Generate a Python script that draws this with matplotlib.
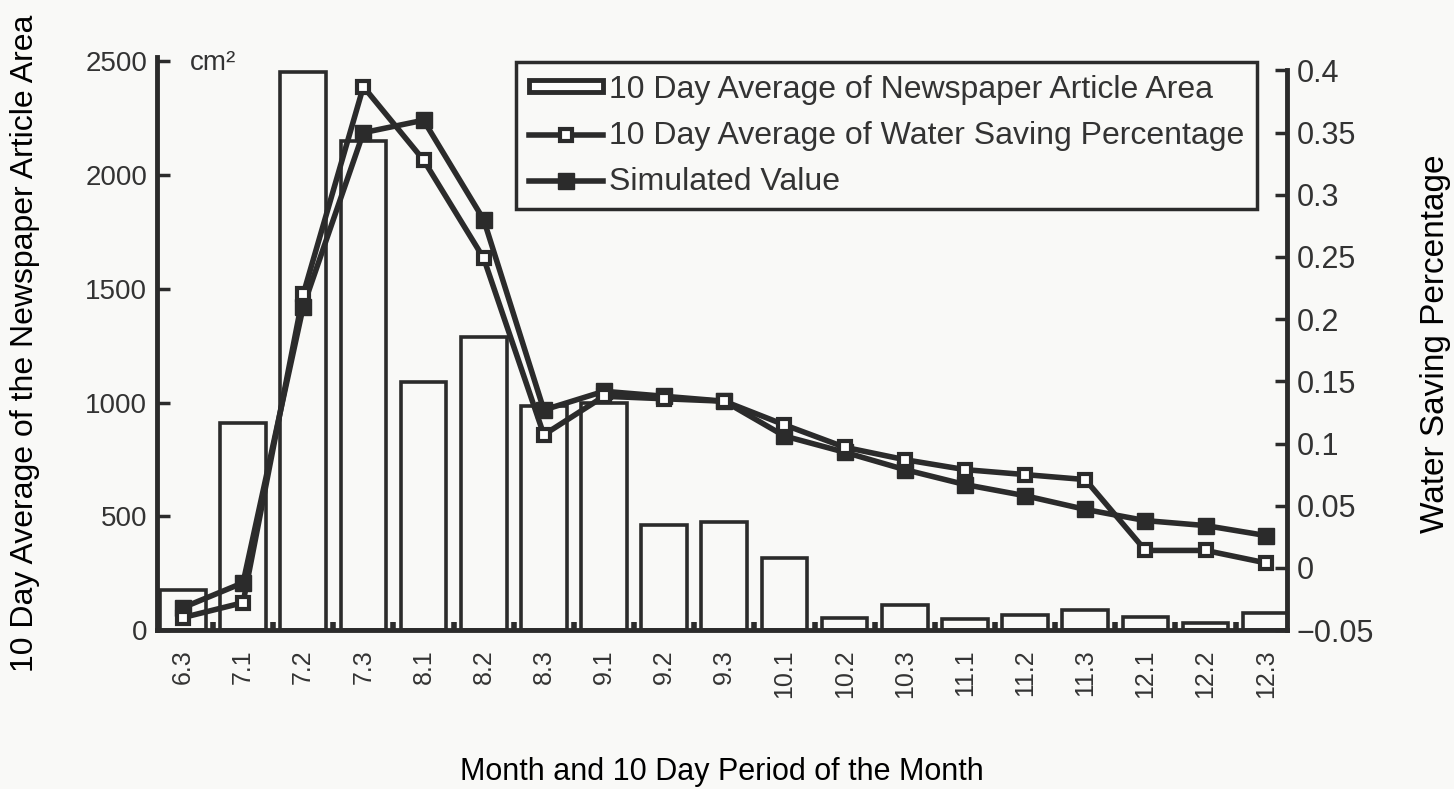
import numpy as np
import matplotlib
matplotlib.use('Agg')
import matplotlib.pyplot as plt
from matplotlib.patches import Patch
from matplotlib.lines import Line2D

# --- data ---
periods = ['6.3', '7.1', '7.2', '7.3', '8.1', '8.2', '8.3', '9.1', '9.2', '9.3',
           '10.1', '10.2', '10.3', '11.1', '11.2', '11.3', '12.1', '12.2', '12.3']
article_area = [175, 910, 2455, 2150, 1090, 1290, 985, 1000, 462, 475,
                317, 53, 110, 48, 66, 88, 57, 31, 75]
water_saving = [-0.040, -0.028, 0.220, 0.387, 0.328, 0.249, 0.107, 0.138, 0.136, 0.134,
                0.115, 0.097, 0.087, 0.079, 0.075, 0.071, 0.014, 0.014, 0.004]
simulated = [-0.032, -0.012, 0.210, 0.350, 0.360, 0.280, 0.127, 0.142, 0.138, 0.134,
             0.106, 0.093, 0.079, 0.067, 0.058, 0.047, 0.038, 0.034, 0.026]

ink = '#2b2b2b'
txt = '#333333'
paper = '#f9f9f7'
plt.rcParams['font.family'] = ['Liberation Sans', 'DejaVu Sans']
plt.rcParams['text.color'] = txt

fig = plt.figure(figsize=(14.54, 7.89), dpi=100, facecolor=paper)
ax = fig.add_axes([0.108, 0.2015, 0.777, 0.7265])
ax.set_facecolor(paper)
x = np.arange(len(periods))

ax.bar(x, article_area, width=0.76, facecolor=paper, edgecolor=ink, linewidth=2.6, zorder=2)
ax.set_xlim(-0.43, 18.35)
ax.set_ylim(0, 2520)
ax.set_yticks([0, 500, 1000, 1500, 2000, 2500])
ax.set_xticks(x)
ax.set_xticklabels(periods, rotation=90, fontsize=18, color=txt)
ax.set_xticks(np.arange(len(periods) - 1) + 0.5, minor=True)
ax.tick_params(axis='x', which='major', length=0, pad=14)
ax.tick_params(axis='x', which='minor', direction='in', length=6, width=4, color=ink)
ax.tick_params(axis='y', direction='in', length=9, width=2.5, color=ink,
               labelsize=20, labelcolor=txt, pad=7)
for s in ['top', 'right']:
    ax.spines[s].set_visible(False)
for s in ['left', 'bottom']:
    ax.spines[s].set_linewidth(3.5)
    ax.spines[s].set_color(ink)
ax.set_ylabel('10 Day Average of the Newspaper Article Area', fontsize=23)
ax.yaxis.set_label_coords(-0.117, 0.5)
ax.yaxis.label.set_va('center')
ax.set_xlabel('Month and 10 Day Period of the Month', fontsize=22)
ax.xaxis.set_label_coords(0.5, -0.247)
ax.xaxis.label.set_va('center')
ax.text(0.029, 0.99, 'cm²', transform=ax.transAxes, fontsize=20, va='center', ha='left')

ax2 = ax.twinx()
ax2.set_ylim(-0.0495, 0.411)
ax2.set_yticks([-0.05, 0, 0.05, 0.1, 0.15, 0.2, 0.25, 0.3, 0.35, 0.4])
ax2.set_yticklabels(['\u22120.05', '0', '0.05', '0.1', '0.15', '0.2', '0.25', '0.3', '0.35', '0.4'])
ax2.plot(x, simulated, color=ink, linewidth=4, marker='s', markersize=12,
         markerfacecolor=ink, markeredgecolor=ink, zorder=3)
ax2.plot(x, water_saving, color=ink, linewidth=4, marker='s', markersize=9,
         markerfacecolor='white', markeredgecolor=ink, markeredgewidth=3, zorder=4)
for s in ['top', 'left', 'bottom']:
    ax2.spines[s].set_visible(False)
ax2.spines['right'].set_linewidth(3.5)
ax2.spines['right'].set_color(ink)
ax2.spines['right'].set_bounds(-0.05, 0.4)
ax2.tick_params(axis='y', direction='in', length=9, width=2.5, color=ink,
                labelsize=22, labelcolor=txt, pad=7)
ax2.set_ylabel('Water Saving Percentage', fontsize=24)
ax2.yaxis.set_label_coords(1.132, 0.5)
ax2.yaxis.label.set_va('center')

handles = [
    Patch(facecolor='white', edgecolor=ink, linewidth=3.5),
    Line2D([], [], color=ink, linewidth=4, marker='s', markersize=9,
           markerfacecolor='white', markeredgecolor=ink, markeredgewidth=3),
    Line2D([], [], color=ink, linewidth=4, marker='s', markersize=12,
           markerfacecolor=ink, markeredgecolor=ink),
]
labels = ['10 Day Average of Newspaper Article Area',
          '10 Day Average of Water Saving Percentage',
          'Simulated Value']
leg = ax2.legend(handles, labels, loc='upper left', bbox_to_anchor=(0.318, 0.991),
                 borderaxespad=0, fontsize=23, frameon=True, fancybox=False,
                 handlelength=2.3, handleheight=0.22, handletextpad=0.2,
                 borderpad=0.4, labelspacing=0.5,
                 facecolor=paper, edgecolor=ink, framealpha=1)
leg.get_frame().set_linewidth(2.5)

fig.savefig('out.png', dpi=100, facecolor=paper)
